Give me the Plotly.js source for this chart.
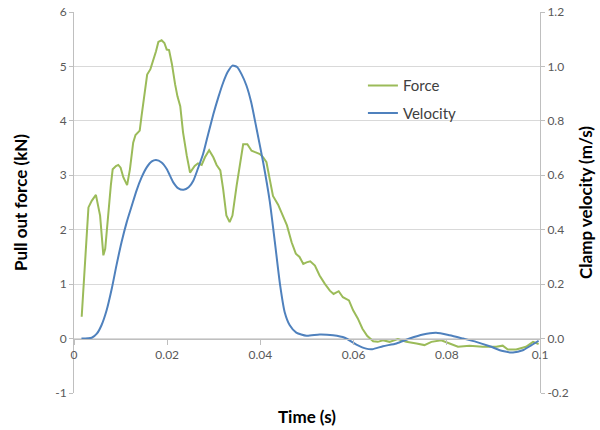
<!DOCTYPE html>
<html>
<head>
<meta charset="utf-8">
<script src="https://cdn.plot.ly/plotly-3.0.1.min.js"></script>
<style>html,body{margin:0;padding:0;background:#fff;}#chart{width:600px;height:430px;}</style>
</head>
<body>
<div id="chart"></div>
<script>
// Force (kN) vs time (s)
const forceTime = [0.00165,0.0031,0.0038,0.0047,0.0056,0.0063,0.0067,0.0074,0.0079,0.0083,0.0090,0.0095,0.0100,0.0106,0.0114,0.0120,0.0127,0.0132,0.0141,0.0145,0.0152,0.0157,0.0164,0.0170,0.0176,0.0181,0.0188,0.0194,0.0199,0.0204,0.0210,0.0217,0.0222,0.0228,0.0234,0.0242,0.0249,0.0259,0.0266,0.0274,0.0281,0.0290,0.0299,0.0306,0.0314,0.0320,0.0327,0.0334,0.0340,0.0349,0.0356,0.0363,0.0372,0.0381,0.0390,0.0399,0.0406,0.0413,0.0420,0.0427,0.0438,0.0449,0.0457,0.0467,0.0476,0.0484,0.0492,0.0499,0.0507,0.0517,0.0527,0.0538,0.0549,0.0557,0.0568,0.0577,0.0590,0.0599,0.0609,0.0619,0.0629,0.0642,0.0652,0.0663,0.0677,0.0695,0.0713,0.0735,0.0752,0.0767,0.0788,0.0806,0.0824,0.0849,0.0877,0.0906,0.0920,0.0931,0.0949,0.0970,0.0985,0.0997];
const forceVal = [0.40,2.41,2.53,2.64,2.26,1.53,1.65,2.38,2.81,3.11,3.17,3.19,3.14,2.96,2.82,3.11,3.60,3.74,3.82,4.09,4.52,4.85,4.95,5.10,5.28,5.45,5.48,5.43,5.31,5.30,5.05,4.67,4.45,4.27,3.79,3.36,3.05,3.17,3.22,3.19,3.33,3.46,3.33,3.19,3.09,2.75,2.26,2.14,2.26,2.81,3.24,3.57,3.57,3.45,3.42,3.39,3.33,3.24,2.93,2.62,2.46,2.23,2.08,1.77,1.56,1.50,1.37,1.40,1.42,1.34,1.16,1.01,0.88,0.82,0.87,0.76,0.70,0.52,0.37,0.18,0.05,-0.05,-0.06,-0.03,-0.06,-0.01,-0.06,-0.09,-0.12,-0.06,-0.03,-0.09,-0.15,-0.13,-0.15,-0.15,-0.13,-0.20,-0.20,-0.15,-0.06,-0.10];

// Clamp velocity (m/s) vs time (s)
const velTime = [0.0016,0.0038,0.0049,0.0059,0.0070,0.0081,0.0091,0.0102,0.0113,0.0124,0.0134,0.0145,0.0156,0.0167,0.0176,0.0188,0.0199,0.0213,0.0224,0.0235,0.0246,0.0256,0.0266,0.0277,0.0288,0.0299,0.0310,0.0320,0.0330,0.0340,0.0350,0.0360,0.0370,0.0380,0.0392,0.0406,0.0420,0.0431,0.0442,0.0452,0.0463,0.0477,0.0499,0.0527,0.0556,0.0581,0.0606,0.0627,0.0640,0.0663,0.0692,0.0720,0.0749,0.0777,0.0806,0.0835,0.0863,0.0892,0.0920,0.0942,0.0963,0.0981,0.0997];
const velVal = [0,0.003,0.018,0.049,0.104,0.183,0.268,0.354,0.427,0.488,0.543,0.592,0.629,0.651,0.656,0.647,0.623,0.574,0.552,0.547,0.556,0.580,0.625,0.678,0.752,0.824,0.888,0.940,0.980,1.003,0.998,0.970,0.930,0.870,0.769,0.647,0.505,0.355,0.200,0.098,0.049,0.022,0.010,0.015,0.012,0.003,-0.022,-0.037,-0.039,-0.028,-0.018,0,0.015,0.021,0.012,0,-0.012,-0.028,-0.046,-0.051,-0.043,-0.025,-0.008];

const seriesNames = ['Force', 'Velocity'];
const xTitle = 'Time (s)';
const yTitle = 'Pull out force (kN)';
const y2Title = 'Clamp velocity (m/s)';

// Tick labels
const xTickVals = [0, 0.02, 0.04, 0.06, 0.08, 0.1];
const xTickText = ['0', '0.02', '0.04', '0.06', '0.08', '0.1'];
const yTickVals = [-1, 0, 1, 2, 3, 4, 5, 6];
const yTickText = ['-1', '0', '1', '2', '3', '4', '5', '6'];
const y2TickVals = [-0.2, 0, 0.2, 0.4, 0.6, 0.8, 1.0, 1.2];
const y2TickText = ['-0.2', '0.0', '0.2', '0.4', '0.6', '0.8', '1.0', '1.2'];

const FONT = 'Lato, Carlito, "Open Sans", sans-serif';

const traces = [
  {x: forceTime, y: forceVal, name: seriesNames[0], type: 'scatter', mode: 'lines',
   line: {color: '#9BBB59', width: 2}, yaxis: 'y', legendgroup: 'a'},
  {x: velTime, y: velVal, name: seriesNames[1], type: 'scatter', mode: 'lines',
   line: {color: '#4F81BD', width: 2, shape: 'spline', smoothing: 0.6}, yaxis: 'y2', legendgroup: 'b'}
];

const titleFont = {family: FONT, size: 17, color: '#000', weight: 'bold'};
const tickFont = {family: FONT, size: 12, color: '#595959'};

const layout = {
  width: 600, height: 430,
  margin: {l: 74, r: 60, t: 12, b: 37},
  paper_bgcolor: '#fff', plot_bgcolor: '#fff',
  font: {family: FONT, size: 12, color: '#595959'},
  showlegend: true,
  legend: {x: 0.62, y: 0.85, xanchor: 'left', yanchor: 'top', bgcolor: 'rgba(0,0,0,0)',
           font: {family: FONT, size: 15, color: '#404040'}, traceorder: 'grouped', tracegroupgap: 5},
  xaxis: {
    range: [0, 0.1], tickmode: 'array', tickvals: xTickVals, ticktext: xTickText,
    anchor: 'free', position: 1/7,
    showgrid: false, zeroline: false, showline: true, linecolor: '#bfbfbf', linewidth: 1,
    ticks: 'outside', ticklen: 5, tickcolor: '#bfbfbf', tickfont: tickFont,
    title: {text: xTitle, font: titleFont, standoff: 50}
  },
  yaxis: {
    range: [-1, 6], tickmode: 'array', tickvals: yTickVals, ticktext: yTickText,
    showgrid: true, gridcolor: '#d9d9d9', zeroline: false,
    showline: true, linecolor: '#bfbfbf', ticks: 'outside', ticklen: 4, tickcolor: '#bfbfbf',
    tickfont: tickFont,
    title: {text: yTitle, font: titleFont, standoff: 23}
  },
  yaxis2: {
    range: [-0.2, 1.2], tickmode: 'array', tickvals: y2TickVals, ticktext: y2TickText,
    overlaying: 'y', side: 'right',
    showgrid: false, zeroline: false, showline: true, linecolor: '#bfbfbf',
    ticks: 'outside', ticklen: 4, tickcolor: '#bfbfbf', tickfont: tickFont,
    title: {text: y2Title, font: titleFont, standoff: 12}
  }
};

Plotly.newPlot('chart', traces, layout, {displayModeBar: false, staticPlot: true});
</script>
</body>
</html>
